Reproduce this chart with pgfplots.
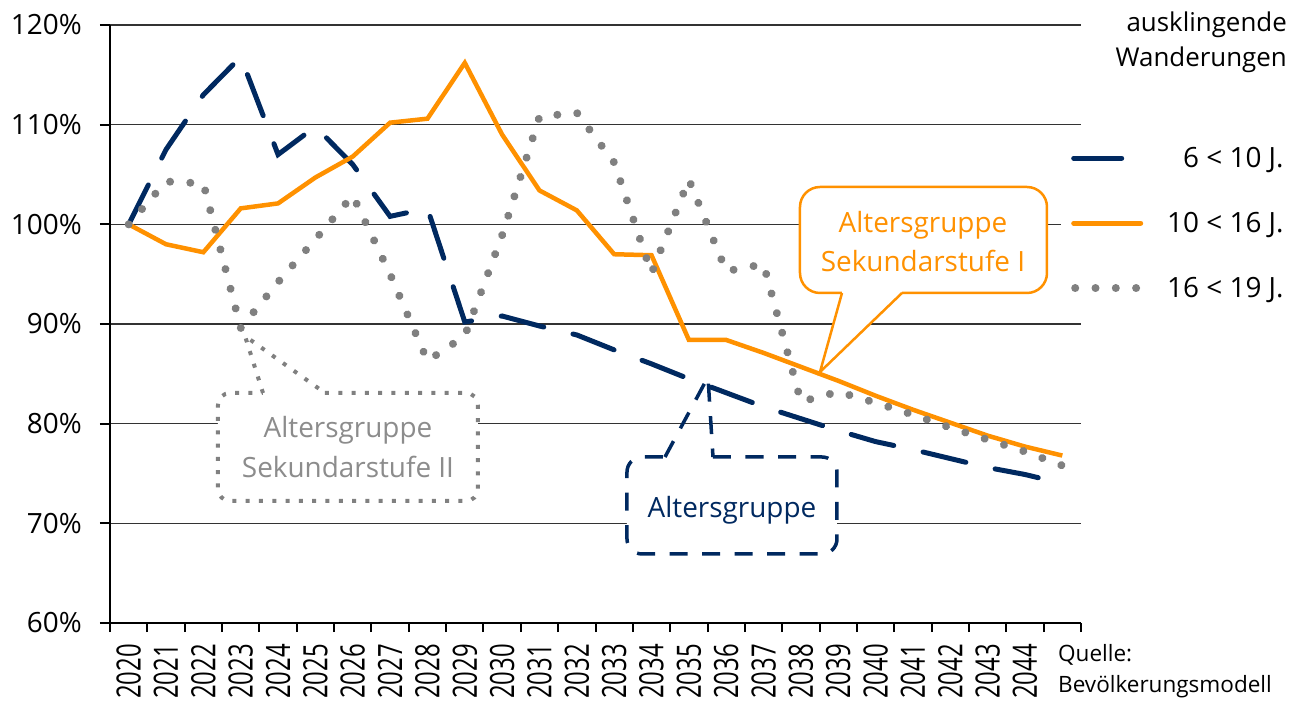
\documentclass[border=0pt]{standalone}
\usepackage{pgfplots}
\pgfplotsset{compat=1.18}
\usepackage{fontspec}
\setmainfont{Open Sans}
\usepackage{graphicx}
\definecolor{navy}{RGB}{0,41,96}
\definecolor{orng}{RGB}{255,145,0}
\definecolor{dgrey}{RGB}{128,128,128}
\definecolor{tgrey}{RGB}{140,140,140}
\newcommand\sx[1]{\scalebox{1}[1.4]{#1}}
\newcommand\fs[1]{\fontsize{#1}{#1}\selectfont}
\begin{document}
\begin{tikzpicture}
\useasboundingbox (-110bp,-81bp) rectangle (1196bp,623bp);
\begin{axis}[
 at={(0,0)}, anchor=south west,
 scale only axis, width=971bp, height=598bp,
 xmin=-0.5, xmax=25.5, ymin=60, ymax=120,
 axis x line*=bottom, axis y line*=left,
 axis line style={line width=2bp, black},
 xtick={0,...,24},
 xticklabels={\sx{2020},\sx{2021},\sx{2022},\sx{2023},\sx{2024},\sx{2025},\sx{2026},\sx{2027},\sx{2028},\sx{2029},\sx{2030},\sx{2031},\sx{2032},\sx{2033},\sx{2034},\sx{2035},\sx{2036},\sx{2037},\sx{2038},\sx{2039},\sx{2040},\sx{2041},\sx{2042},\sx{2043},\sx{2044}},
 minor xtick={-0.5,0.5,...,25.5},
 major x tick style={draw=none},
 minor x tick style={black, line width=2bp},
 minor tick length=9bp,
 major tick length=10bp,
 tick align=outside,
 ytick={60,70,...,120},
 yticklabels={60\%,70\%,80\%,90\%,100\%,110\%,120\%},
 y tick style={black, line width=2bp},
 ymajorgrids, grid style={black!80, line width=1.2bp},
 xticklabel shift=11bp,
 xticklabel style={rotate=90, anchor=east, font=\fs{24}, inner sep=0pt},
 yticklabel style={anchor=east, font=\fs{28}, inner sep=0pt, xshift=-18bp},
 legend style={at={(axis description cs:0.9794,0.7977)}, anchor=north west, draw=none, fill=white, inner xsep=10bp, inner ysep=0pt, row sep=41bp, column sep=24bp, font=\fs{28}, nodes={inner sep=0pt}},
 legend cell align=right,
]
\addplot[navy, line width=5bp, line cap=round, dash pattern=on 44bp off 30bp,
 legend image code/.code={\path[draw=none, fill=none] (0bp,-12bp) rectangle (72bp,12bp); \draw[navy, solid, line width=5bp, line cap=round] (2.5bp,0bp) -- (50.5bp,0bp);}]
 coordinates {(0,100) (1,107.5) (2,113.0) (3,116.8) (4,107.0) (5,109.8) (6,106.0) (7,100.8) (8,101.6) (9,90.2) (10,90.8) (11,89.8) (12,88.9) (13,87.4) (14,86.0) (15,84.5) (16,83.1) (17,81.7) (18,80.5) (19,79.3) (20,78.2) (21,77.4) (22,76.5) (23,75.6) (24,74.9) (25,74.0)};
\addlegendentry{\rule[-5bp]{0pt}{26bp}6 < 10 J.}
\addplot[orng, line width=4.5bp,
 legend image code/.code={\path[draw=none, fill=none] (0bp,-12bp) rectangle (72bp,12bp); \draw[orng, solid, line width=5bp, line cap=round] (2.5bp,0bp) -- (69.5bp,0bp);}]
 coordinates {(0,100) (1,98.0) (2,97.2) (3,101.6) (4,102.1) (5,104.7) (6,106.8) (7,110.2) (8,110.6) (9,116.2) (10,109.0) (11,103.4) (12,101.4) (13,97.0) (14,96.9) (15,88.4) (16,88.4) (17,87.1) (18,85.7) (19,84.3) (20,82.8) (21,81.4) (22,80.1) (23,78.8) (24,77.7) (25,76.8)};
\addlegendentry{\rule[-5bp]{0pt}{26bp}10 < 16 J.}
\addplot[dgrey, line width=8bp, line cap=round, dash pattern=on 0.01bp off 20.29bp,
 legend image code/.code={\path[draw=none, fill=none] (0bp,-12bp) rectangle (72bp,12bp); \draw[dgrey, line width=8bp, line cap=round, dash pattern=on 0.01bp off 20.29bp] (4bp,0bp) -- (65bp,0bp);}]
 coordinates {(0,100) (1,104.3) (2,104.1) (3,89.6) (4,94.2) (5,98.5) (6,102.9) (7,95.0) (8,86.3) (9,88.8) (10,98.9) (11,110.8) (12,111.2) (13,106.2) (14,95.1) (15,104.5) (16,95.3) (17,96.0) (18,82.2) (19,83.2) (20,82.1) (21,80.9) (22,79.6) (23,78.4) (24,77.2) (25,75.8)};
\addlegendentry{\rule[-5bp]{0pt}{26bp}16 < 19 J.}
\end{axis}
\begin{scope}[shift={(-110bp,623bp)}, x=1bp, y=-1bp]
\node[anchor=base east, font=\fs{26}, inner sep=0pt] at (1287,32) {ausklingende};
\node[anchor=base east, font=\fs{26}, inner sep=0pt] at (1287,67) {Wanderungen};
\node[anchor=base west, font=\fs{22.6}, inner sep=0pt] at (1058,662) {Quelle:};
\node[anchor=base west, font=\fs{22.6}, inner sep=0pt] at (1058,693) {Bevölkerungsmodell};
% orange callout
\fill[white, rounded corners=20bp] (800,187) rectangle (1047,293);
\fill[white] (842,292) -- (820,372) -- (902,292) -- cycle;
\draw[orng, line width=2.5bp, rounded corners=20bp] (902,293) -- (1047,293) -- (1047,187) -- (800,187) -- (800,293) -- (842,293);
\draw[orng, line width=2.5bp] (842,293) -- (820,372) -- (902,293);
\node[orng, font=\fs{28}, anchor=base, inner sep=0pt] at (923,233) {Altersgruppe};
\node[orng, font=\fs{28}, anchor=base, inner sep=0pt] at (923,272) {Sekundarstufe I};
% grey callout
\fill[white, rounded corners=12bp] (218,393) rectangle (478,501);
\fill[white] (263,394) -- (245,336) -- (325,394) -- cycle;
\draw[dgrey, line width=4bp, dash pattern=on 4bp off 9.3bp, rounded corners=12bp] (325,393) -- (478,393) -- (478,501) -- (218,501) -- (218,393) -- (263,393);
\draw[dgrey, line width=4bp, dash pattern=on 4bp off 9.3bp] (263,393) -- (245,336) -- (325,393);
\node[tgrey, font=\fs{28}, anchor=base, inner sep=0pt] at (348,438) {Altersgruppe};
\node[tgrey, font=\fs{28}, anchor=base, inner sep=0pt] at (348,478) {Sekundarstufe II};
% navy callout
\fill[white, rounded corners=15bp] (627,457) rectangle (837,554);
\draw[navy, line width=3.5bp, dash pattern=on 18bp off 14.5bp, rounded corners=15bp] (713,457) -- (837,457) -- (837,554) -- (627,554) -- (627,457) -- (665,457);
\draw[navy, line width=3.5bp, dash pattern=on 18bp off 14.5bp] (665,457) -- (708,377) -- (713,457);
\node[navy, font=\fs{28}, anchor=base, inner sep=0pt] at (732,518) {Altersgruppe};
\end{scope}
\end{tikzpicture}
\end{document}
